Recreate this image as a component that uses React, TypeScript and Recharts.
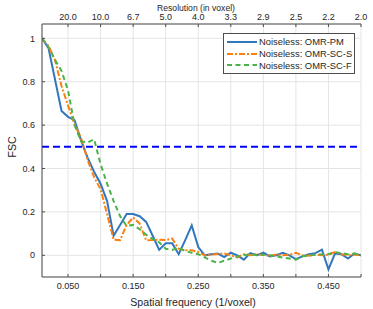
import { LineChart, Line, XAxis, YAxis, CartesianGrid, ReferenceLine, Legend } from "recharts";

// spatial frequency samples (1/voxel)
const freq = [
  0.01, 0.02, 0.03, 0.04, 0.05, 0.06, 0.07, 0.08, 0.09, 0.1,
  0.11, 0.12, 0.13, 0.14, 0.15, 0.16, 0.17, 0.18, 0.19, 0.2,
  0.21, 0.22, 0.23, 0.24, 0.25, 0.26, 0.27, 0.28, 0.29, 0.3,
  0.31, 0.32, 0.33, 0.34, 0.35, 0.36, 0.37, 0.38, 0.39, 0.4,
  0.41, 0.42, 0.43, 0.44, 0.45, 0.46, 0.47, 0.48, 0.49, 0.5,
];

const omrPM = [
  1.0, 0.955, 0.81, 0.665, 0.638, 0.623, 0.53, 0.45, 0.385, 0.33,
  0.25, 0.09, 0.14, 0.19, 0.19, 0.18, 0.154, 0.09, 0.025, 0.055,
  0.055, 0.005, 0.07, 0.138, 0.038, 0.0, 0.005, 0.008, -0.008, 0.012,
  0.0, -0.02, 0.01, 0.0, 0.012, -0.005, 0.0, 0.011, 0.0, -0.018,
  -0.005, 0.005, 0.01, 0.026, -0.065, 0.008, 0.005, -0.015, 0.008, 0.0,
];

const omrSCS = [
  1.0, 0.965, 0.9, 0.78, 0.69, 0.605, 0.54, 0.44, 0.36, 0.305,
  0.19, 0.072, 0.07, 0.14, 0.174, 0.146, 0.069, 0.07, 0.072, 0.07,
  0.077, 0.03, 0.023, 0.023, 0.015, 0.0, 0.003, 0.006, 0.008, 0.0,
  -0.01, 0.005, 0.0, 0.005, 0.002, -0.003, 0.004, 0.0, 0.003, 0.011,
  0.0, -0.002, 0.003, 0.0, 0.003, 0.015, 0.005, 0.0, 0.003, 0.0,
];

const omrSCF = [
  1.0, 0.96, 0.9, 0.85, 0.76, 0.6, 0.525, 0.52, 0.535, 0.42,
  0.33, 0.25, 0.18, 0.135, 0.14, 0.12, 0.095, 0.075, 0.06, 0.03,
  0.025, 0.035, 0.02, 0.012, 0.005, -0.01, -0.025, -0.035, -0.025, -0.015,
  -0.005, 0.0, 0.005, 0.0, 0.003, 0.0, -0.005, -0.01, -0.015, -0.02,
  -0.005, 0.0, 0.002, 0.005, 0.005, 0.015, 0.01, 0.005, 0.008, 0.0,
];

const seriesNames = ["Noiseless: OMR-PM", "Noiseless: OMR-SC-S", "Noiseless: OMR-SC-F"];
const xTicks = [0.05, 0.1, 0.15, 0.2, 0.25, 0.3, 0.35, 0.4, 0.45, 0.5];
const xLabelled = [0.05, 0.15, 0.25, 0.35, 0.45];
const yTicks = [0, 0.2, 0.4, 0.6, 0.8, 1];
const threshold = 0.5;

const COLORS = {
  pm: "#3277bd",
  scs: "#ff7f0e",
  scf: "#4cb34a",
  thr: "#0000ff",
  axis: "#4d4d4d",
  grid: "#e4e4e4",
  text: "#262626",
};

const DASH = { scs: "6 2 2 2", scf: "5 3.5" };

const FONT = '"Liberation Sans", Arial, sans-serif';

const data = freq.map((f, i) => ({
  f,
  pm: omrPM[i],
  scs: omrSCS[i],
  scf: omrSCF[i],
}));

function LegendBox({ payload }: any) {
  const items = [...(payload || [])].sort(
    (a: any, b: any) => seriesNames.indexOf(a.value) - seriesNames.indexOf(b.value),
  );
  return (
    <div
      style={{
        border: `1px solid ${COLORS.axis}`,
        background: "#fff",
        padding: "2px 0 2px 2px",
        fontFamily: FONT,
        fontSize: 9.4,
        color: COLORS.text,
      }}
    >
      {items.map((p: any) => (
        <div key={p.value} style={{ display: "flex", alignItems: "center", height: 11.7 }}>
          <svg width={32} height={6} style={{ marginRight: 1 }}>
            <line
              x1={1}
              x2={31}
              y1={3}
              y2={3}
              stroke={p.color}
              strokeWidth={2}
              strokeDasharray={p.payload?.strokeDasharray}
            />
          </svg>
          <span>{p.value}</span>
        </div>
      ))}
    </div>
  );
}

export default function App() {
  const tickStyle = { fontSize: 9, fill: COLORS.text, fontFamily: FONT };
  return (
    <div
      style={{
        position: "absolute",
        left: 0,
        top: 0,
        width: 373,
        height: 309,
        background: "#fff",
        fontFamily: FONT,
      }}
    >
      <LineChart width={373} height={309} data={data} margin={{ top: 0, right: 12, bottom: 0, left: 0 }}>
        <CartesianGrid xAxisId="bottom" yAxisId="left" stroke={COLORS.grid} strokeWidth={1} />
        <XAxis
          xAxisId="bottom"
          dataKey="f"
          type="number"
          domain={[0.01, 0.5]}
          ticks={xTicks}
          allowDataOverflow
          height={32}
          tick={tickStyle}
          tickSize={-3}
          tickMargin={9}
          tickFormatter={(v: number) => (xLabelled.some((t) => Math.abs(t - v) < 1e-6) ? v.toFixed(3) : "")}
          stroke={COLORS.axis}
        />
        <XAxis
          xAxisId="top"
          orientation="top"
          dataKey="f"
          type="number"
          domain={[0.01, 0.5]}
          ticks={xTicks}
          allowDataOverflow
          height={24}
          tick={tickStyle}
          tickSize={-3}
          tickMargin={7}
          tickFormatter={(v: number) => (1 / v).toFixed(1)}
          stroke={COLORS.axis}
        />
        <YAxis
          yAxisId="left"
          type="number"
          domain={[-0.1, 1.066]}
          ticks={yTicks}
          allowDataOverflow
          width={42}
          tick={tickStyle}
          tickSize={-3}
          tickMargin={10}
          tickFormatter={(v: number) => String(Math.round(v * 10) / 10)}
          stroke={COLORS.axis}
        />
        <ReferenceLine
          xAxisId="bottom"
          yAxisId="left"
          y={threshold}
          stroke={COLORS.thr}
          strokeWidth={2}
          strokeDasharray="7 4"
        />
        <Line
          xAxisId="bottom"
          yAxisId="left"
          dataKey="pm"
          name={seriesNames[0]}
          stroke={COLORS.pm}
          strokeWidth={2}
          dot={false}
          isAnimationActive={false}
          type="linear"
        />
        <Line
          xAxisId="bottom"
          yAxisId="left"
          dataKey="scs"
          name={seriesNames[1]}
          stroke={COLORS.scs}
          strokeWidth={2}
          strokeDasharray={DASH.scs}
          dot={false}
          isAnimationActive={false}
          type="linear"
        />
        <Line
          xAxisId="bottom"
          yAxisId="left"
          dataKey="scf"
          name={seriesNames[2]}
          stroke={COLORS.scf}
          strokeWidth={2}
          strokeDasharray={DASH.scf}
          dot={false}
          isAnimationActive={false}
          type="linear"
        />
        <Legend
          layout="horizontal"
          verticalAlign="middle"
          align="center"
          content={<LegendBox />}
          wrapperStyle={{ left: 223, top: 33, width: 132, height: 40 }}
        />
      </LineChart>
      <div
        style={{
          position: "absolute",
          left: 196,
          top: 8,
          transform: "translate(-50%, -50%)",
          fontSize: 8.6,
          color: COLORS.text,
          whiteSpace: "nowrap",
        }}
      >
        Resolution (in voxel)
      </div>
      <div
        style={{
          position: "absolute",
          left: 193,
          top: 302,
          transform: "translate(-50%, -50%)",
          fontSize: 10.6,
          color: COLORS.text,
          whiteSpace: "nowrap",
        }}
      >
        Spatial frequency (1/voxel)
      </div>
      <div
        style={{
          position: "absolute",
          left: 12,
          top: 147,
          transform: "translate(-50%, -50%) rotate(-90deg)",
          fontSize: 10.6,
          color: COLORS.text,
          whiteSpace: "nowrap",
        }}
      >
        FSC
      </div>
    </div>
  );
}
